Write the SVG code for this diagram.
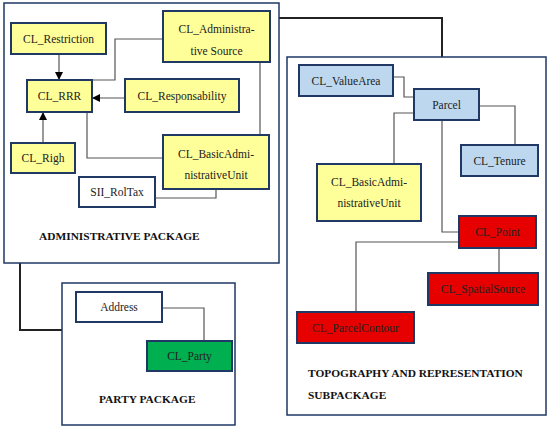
<svg xmlns="http://www.w3.org/2000/svg" width="550" height="430" viewBox="0 0 550 430">
<style>
.pkg{fill:#fff;stroke:#1f3864;stroke-width:1.5}
.node rect{stroke:#1f3864;stroke-width:2}
.y{fill:#ffff99}.b{fill:#bdd7ee}.r{fill:#e60000}.g{fill:#00b050}.w{fill:#fff}
text{font-family:"Liberation Serif","Times New Roman",serif;font-size:11.5px;fill:#222;text-anchor:middle}
.lbl{font-weight:bold;font-size:11.4px;text-anchor:start;fill:#111}
.c{fill:none;stroke:#555;stroke-width:1.2}
.outer{fill:none;stroke:#222;stroke-width:2}
.arr{marker-end:url(#ah)}
</style>
<defs>
<marker id="ah" viewBox="0 0 10 10" refX="10" refY="5" markerWidth="8" markerHeight="8" markerUnits="userSpaceOnUse" orient="auto">
<path d="M0,0 L10,5 L0,10 z" fill="#000"/>
</marker>
</defs>
<rect width="550" height="430" fill="#fff"/>
<g id="outer-connectors">
<polyline class="outer" points="279,18 442,18 442,57"/>
<polyline class="outer" points="20,263 20,330 62,330"/>
</g>
<g id="admin-package">
<rect class="pkg" x="4" y="3" width="275" height="260"/>
<text class="lbl" x="39" y="240">ADMINISTRATIVE PACKAGE</text>
</g>
<g id="topo-package">
<rect class="pkg" x="287" y="57" width="259" height="358"/>
<text class="lbl" x="308" y="377">TOPOGRAPHY AND REPRESENTATION</text>
<text class="lbl" x="308" y="399">SUBPACKAGE</text>
</g>
<g id="party-package">
<rect class="pkg" x="62" y="283" width="173" height="142"/>
<text class="lbl" x="99" y="403">PARTY PACKAGE</text>
</g>
<g id="connectors">
<line class="c arr" x1="59" y1="54" x2="59" y2="80"/>
<line class="c arr" x1="125" y1="98" x2="92" y2="98"/>
<line class="c arr" x1="43" y1="143" x2="43" y2="112"/>
<polyline class="c" points="163,39 115,39 115,80 92,80"/>
<polyline class="c" points="87,112 87,158 163,158"/>
<line class="c" x1="260" y1="62" x2="260" y2="135"/>
<polyline class="c" points="155,198 216,198 216,189"/>
<polyline class="c" points="393,77 404,77 404,97 414,97"/>
<polyline class="c" points="479,106 515,106 515,145"/>
<polyline class="c" points="414,113 394,113 394,164"/>
<polyline class="c" points="442,120 442,232 459,232"/>
<polyline class="c" points="459,242 356,242 356,312"/>
<line class="c" x1="499" y1="248" x2="499" y2="273"/>
<polyline class="c" points="162,308 204,308 204,341"/>
</g>
<g id="CL_Restriction" class="node"><rect class="y" x="11" y="23" width="95" height="31"/><text x="58.5" y="42.5">CL_Restriction</text></g>
<g id="CL_RRR" class="node"><rect class="y" x="27" y="80" width="65" height="32"/><text x="59.5" y="100">CL_RRR</text></g>
<g id="CL_AdministrativeSource" class="node"><rect class="y" x="163" y="11" width="107" height="51"/><text x="216.5" y="33">CL_Administra-</text><text x="216.5" y="55">tive Source</text></g>
<g id="CL_Responsability" class="node"><rect class="y" x="125" y="79" width="114" height="33"/><text x="182" y="99.5">CL_Responsability</text></g>
<g id="CL_Righ" class="node"><rect class="y" x="11" y="143" width="64" height="30"/><text x="43" y="162">CL_Righ</text></g>
<g id="CL_BasicAdministrativeUnit_admin" class="node"><rect class="y" x="163" y="135" width="106" height="54"/><text x="216" y="158">CL_BasicAdmi-</text><text x="216" y="179">nistrativeUnit</text></g>
<g id="SII_RolTax" class="node"><rect class="w" x="79" y="177" width="76" height="30"/><text x="117" y="196">SII_RolTax</text></g>
<g id="CL_ValueArea" class="node"><rect class="b" x="299" y="65" width="94" height="31"/><text x="346" y="84.5">CL_ValueArea</text></g>
<g id="Parcel" class="node"><rect class="b" x="414" y="89" width="65" height="31"/><text x="446.5" y="108.5">Parcel</text></g>
<g id="CL_Tenure" class="node"><rect class="b" x="461" y="145" width="77" height="31"/><text x="499.5" y="164.5">CL_Tenure</text></g>
<g id="CL_BasicAdministrativeUnit_topo" class="node"><rect class="y" x="317" y="164" width="104" height="57"/><text x="369" y="186">CL_BasicAdmi-</text><text x="369" y="207">nistrativeUnit</text></g>
<g id="CL_Point" class="node"><rect class="r" x="459" y="216" width="77" height="32"/><text x="497.5" y="236">CL_Point</text></g>
<g id="CL_SpatialSource" class="node"><rect class="r" x="428" y="273" width="110" height="32"/><text x="483" y="293">CL_SpatialSource</text></g>
<g id="CL_ParcelContour" class="node"><rect class="r" x="297" y="312" width="117" height="31"/><text x="355.5" y="331.5">CL_ParcelContour</text></g>
<g id="Address" class="node"><rect class="w" x="76" y="292" width="86" height="30"/><text x="119" y="311">Address</text></g>
<g id="CL_Party" class="node"><rect class="g" x="147" y="341" width="85" height="30"/><text x="189.5" y="360">CL_Party</text></g>
</svg>
